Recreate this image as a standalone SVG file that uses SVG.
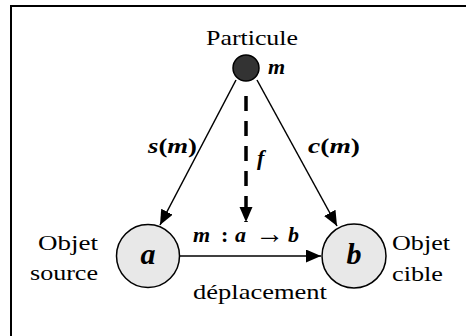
<svg xmlns="http://www.w3.org/2000/svg" width="466" height="336" viewBox="0 0 466 336" font-family="Liberation Serif" font-size="22">
<style>
.bi{font-weight:bold;font-style:italic}
.up{font-style:normal}
.edge{stroke:#000;stroke-width:1.5;fill:none}
.node{stroke:#000;stroke-width:1.5}
</style>
<defs>
<marker id="arr" markerUnits="userSpaceOnUse" markerWidth="16" markerHeight="14" refX="15" refY="6.5" orient="auto" viewBox="0 0 16 14">
<path d="M0,0 L15,6.5 L0,13 z" fill="#000"/>
</marker>
</defs>
<rect x="11" y="6" width="520" height="420" fill="#fff" stroke="#000" stroke-width="2"/>
<g id="connectors">
<line class="edge" x1="236" y1="80" x2="160" y2="225" marker-end="url(#arr)"/>
<line class="edge" x1="257" y1="80" x2="337" y2="226" marker-end="url(#arr)"/>
<line x1="246" y1="96" x2="246" y2="222" stroke="#000" stroke-width="3.5" stroke-dasharray="15 10" marker-end="url(#arr)"/>
<line class="edge" x1="180" y1="256" x2="321" y2="256" marker-end="url(#arr)"/>
<text class="bi" x="148" y="153" textLength="49" lengthAdjust="spacingAndGlyphs">s<tspan class="up">(</tspan>m<tspan class="up">)</tspan></text>
<text class="bi" x="308" y="153" textLength="52" lengthAdjust="spacingAndGlyphs">c<tspan class="up">(</tspan>m<tspan class="up">)</tspan></text>
<text class="bi" x="257" y="165">f</text>
<text class="bi" x="193" y="242">m<tspan x="221" class="up">:</tspan><tspan x="235">a</tspan><tspan x="288">b</tspan></text>
<text x="255" y="243" font-size="28" textLength="29" lengthAdjust="spacingAndGlyphs">→</text>
<text x="193" y="299" textLength="134" lengthAdjust="spacingAndGlyphs">déplacement</text>
</g>
<g id="particule">
<circle class="node" cx="246" cy="68" r="13" fill="#333"/>
<text x="206" y="45" textLength="92" lengthAdjust="spacingAndGlyphs">Particule</text>
<text class="bi" x="268" y="74">m</text>
</g>
<g id="objet-source">
<circle class="node" cx="148" cy="256" r="31.5" fill="#e8e8e8"/>
<text class="bi" x="148" y="264" text-anchor="middle" font-size="30">a</text>
<text x="38" y="250" textLength="60" lengthAdjust="spacingAndGlyphs">Objet</text>
<text x="30" y="280" textLength="68" lengthAdjust="spacingAndGlyphs">source</text>
</g>
<g id="objet-cible">
<circle class="node" cx="354" cy="256" r="32" fill="#e8e8e8"/>
<text class="bi" x="354" y="264" text-anchor="middle" font-size="30">b</text>
<text x="392" y="250" textLength="58" lengthAdjust="spacingAndGlyphs">Objet</text>
<text x="392" y="281" textLength="51" lengthAdjust="spacingAndGlyphs">cible</text>
</g>
</svg>
